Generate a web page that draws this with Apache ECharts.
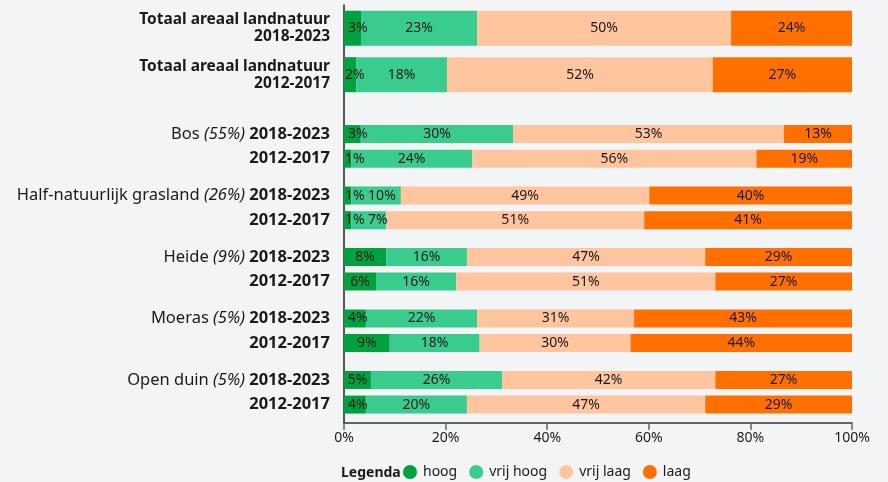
<!DOCTYPE html>
<html>
<head>
<meta charset="utf-8">
<script src="https://cdn.jsdelivr.net/npm/echarts@6/dist/echarts.min.js"></script>
<style>
html,body{margin:0;padding:0;background:#f3f4f6;}
#chart{width:888px;height:482px;}
</style>
</head>
<body>
<div id="chart"></div>
<script>

// data

const levels = ["hoog","vrij hoog","vrij laag","laag"];

const colors = ["#00a23f","#39cc8e","#ffc59e","#ff7000"];

const totalName = "Totaal areaal landnatuur";

const periods = ["2018-2023","2012-2017"];

const groups = ["Bos","Half-natuurlijk grasland","Heide","Moeras","Open duin"];

const shares = ["55%","26%","9%","5%","5%"];

// totaal: 2018-2023, 2012-2017
const totHoog = [3.35, 2.4];
const totVrijHoog = [22.85, 17.9];
const totVrijLaag = [50.0, 52.3];
const totLaag = [23.8, 27.4];

// per type, volgorde: Bos 18-23, Bos 12-17, Half 18-23, ...
const hoog = [3.3, 1.4, 1.4, 1.4, 8.3, 6.3, 4.3, 9.0, 5.3, 4.3];
const vrijHoog = [30.0, 23.8, 9.8, 6.9, 15.9, 15.8, 21.9, 17.7, 25.8, 19.9];
const vrijLaag = [53.3, 56.0, 48.9, 50.8, 46.9, 51.0, 30.9, 29.7, 42.0, 46.9];
const laag = [13.4, 18.8, 39.9, 40.9, 28.9, 26.9, 42.9, 43.6, 26.9, 28.9];

const xTicks = [0,20,40,60,80,100];


// category slots for the small bars
const SLOTS = 34;
const slotLabels = [];
const slotRow = [];
for(let i=0;i<SLOTS;i++){ slotLabels.push(""); slotRow.push(-1); }

groups.forEach((g,gi)=>{
  periods.forEach((p,pi)=>{
    const idx = 10 + gi*5 + pi*2;
    slotRow[idx] = gi*2 + pi;
    slotLabels[idx] = pi===0
      ? g + " {i|(" + shares[gi] + ")} {b|" + p + "}"
      : "{b|" + p + "}";
  });
});

const slotNames = slotLabels.map((l,i)=>"c"+i);

// categories for the total bars
const TOT_SLOTS = 9;
const totNames = [];
const totLabels = [];
for(let i=0;i<TOT_SLOTS;i++){
  totNames.push("t"+i);
  totLabels.push(i<periods.length ? "{b|"+totalName+"}\n{b|"+periods[i]+"}" : "");
}


function pct(p){
  return Math.round(p.value) + "%";
}

const labelBase = {
  show:true,
  position:"inside",
  color:"#1a1a1a",
  fontSize:14,
  fontFamily:"Noto Sans",
  formatter:pct
};


function smallLabel(v){
  return {position:"insideLeft",distance:v<2.5 ? 1 : 4};
}

function slotData(arr, li){
  return slotRow.map(r=>{
    if(r<0) return "-";
    const v = arr[r];
    if(li===0 && v<4.5){
      return {value:v,label:smallLabel(v)};
    }
    if(li===1 && hoog[r]<2 && v<12){
      return {value:v,label:{position:"insideLeft",distance:17}};
    }
    return v;
  });
}

function totData(arr, li){
  return totNames.map((n,i)=>{
    if(i>=arr.length) return "-";
    const v = arr[i];
    if(li===0 && v<4.5){
      return {value:v,label:smallLabel(v)};
    }
    return v;
  });
}


const smallSets = [hoog, vrijHoog, vrijLaag, laag];
const totSets = [totHoog, totVrijHoog, totVrijLaag, totLaag];

const series = [];

levels.forEach((name,li)=>{
  series.push({
    name:name,
    type:"bar",
    stack:"groep",
    yAxisIndex:0,
    barWidth:18,
    itemStyle:{color:colors[li]},
    label:labelBase,
    data:slotData(smallSets[li], li)
  });
});

levels.forEach((name,li)=>{
  series.push({
    name:name,
    type:"bar",
    stack:"totaal",
    yAxisIndex:1,
    barWidth:35,
    itemStyle:{color:colors[li]},
    label:labelBase,
    data:totData(totSets[li], li)
  });
});


const chart = echarts.init(document.getElementById("chart"));

chart.setOption({

  backgroundColor:"#f3f4f6",

  animation:false,

  textStyle:{fontFamily:"Noto Sans"},

  title:{
    text:"Legenda",
    left:341,
    top:466,
    padding:0,
    textStyle:{fontSize:14,fontWeight:"bold",color:"#1a1a1a",fontFamily:"Noto Sans"}
  },

  legend:{
    data:levels,
    left:403,
    top:465,
    padding:0,
    icon:"circle",
    itemWidth:16,
    itemHeight:14,
    itemGap:12,
    textStyle:{fontSize:14,color:"#1a1a1a",fontFamily:"Noto Sans"}
  },

  grid:{
    left:344,
    right:36,
    top:5,
    bottom:59,
    containLabel:false
  },

  xAxis:{
    type:"value",
    min:0,
    max:100,
    interval:20,
    axisLine:{show:true,lineStyle:{color:"#333",width:1.5}},
    axisTick:{show:true,length:7,lineStyle:{color:"#666",width:1.5}},
    splitLine:{show:false},
    axisLabel:{
      formatter:v=>xTicks.includes(v) ? v+"%" : "",
      fontSize:14,
      color:"#1a1a1a",
      margin:8,
      fontFamily:"Noto Sans"
    }
  },

  yAxis:[
    {
      type:"category",
      data:slotNames,
      inverse:true,
      axisLine:{show:true,lineStyle:{color:"#222",width:1.5}},
      axisTick:{show:false},
      axisLabel:{
        interval:0,
        margin:14,
        fontSize:16.5,
        color:"#1a1a1a",
        fontFamily:"Noto Sans",
        formatter:(v,i)=>slotLabels[i],
        rich:{
          i:{fontStyle:"italic",fontSize:16.5,color:"#1a1a1a",fontFamily:"Noto Sans"},
          b:{fontWeight:"bold",fontSize:16.5,color:"#1a1a1a",fontFamily:"Noto Sans"}
        }
      }
    },
    {
      type:"category",
      data:totNames,
      inverse:true,
      position:"left",
      offset:0,
      axisLine:{show:false},
      axisTick:{show:false},
      axisLabel:{
        interval:0,
        margin:14,
        align:"right",
        fontSize:15.5,
        color:"#1a1a1a",
        fontFamily:"Noto Sans",
        formatter:(v,i)=>totLabels[i],
        rich:{
          b:{fontWeight:"bold",fontSize:15.5,lineHeight:17,align:"right",color:"#1a1a1a",fontFamily:"Noto Sans"}
        }
      }
    }
  ],

  series:series

});


window.addEventListener(
"resize",
()=>chart.resize()
);

</script>
</body>
</html>
